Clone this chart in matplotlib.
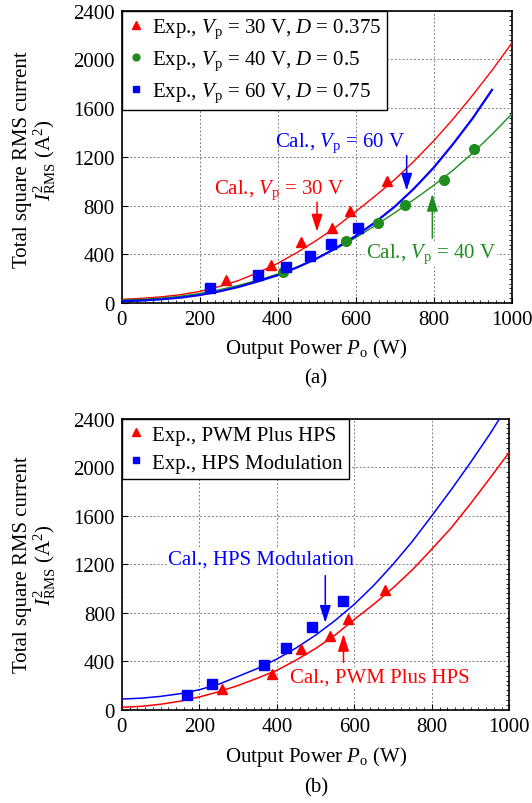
import matplotlib
matplotlib.use("Agg")
import matplotlib.pyplot as plt
from matplotlib.ticker import MultipleLocator

plt.rcParams['font.family'] = ['Liberation Serif', 'DejaVu Serif']
plt.rcParams['mathtext.fontset'] = 'custom'
plt.rcParams['mathtext.rm'] = 'Liberation Serif'
plt.rcParams['mathtext.it'] = 'Liberation Serif:italic'

RED = '#FF0000'
GREEN = '#1E8C1E'
BLUE = '#0000FF'

# ---------------- (a) data ----------------
a_exp30_x = [267, 383, 461, 540, 585, 680]
a_exp30_y = [189, 315, 504, 616, 759, 1005]
a_exp40_x = [414, 575, 657, 727, 826, 905]
a_exp40_y = [252, 507, 655, 805, 1011, 1263]
a_exp60_x = [226, 350, 421, 483, 538, 607]
a_exp60_y = [121, 227, 296, 386, 488, 616]

a_cal_x = [0, 50, 100, 150, 200, 250, 300, 350, 400, 450, 500, 550, 600, 650,
           700, 750, 800, 850, 900, 950, 1000]
a_cal30_y = [30, 38, 50, 68, 95, 135, 185, 250, 325, 415, 515, 625, 750, 878,
             1012, 1165, 1330, 1510, 1705, 1910, 2130]
a_cal40_y = [25, 30, 40, 56, 78, 108, 145, 188, 237, 295, 365, 445, 535, 635,
             740, 850, 965, 1090, 1230, 1385, 1550]
a_cal60_x = [0, 50, 100, 150, 200, 250, 300, 350, 400, 450, 500, 550, 600, 650,
             700, 750, 800, 850, 900, 950]
a_cal60_y = [15, 20, 30, 44, 65, 95, 132, 178, 228, 292, 365, 452, 550, 662,
             790, 940, 1110, 1305, 1515, 1750]

# ---------------- (b) data ----------------
b_exp_pwm_x = [258, 387, 462, 538, 584, 679]
b_exp_pwm_y = [171, 295, 498, 605, 748, 989]
b_exp_hps_x = [167, 232, 367, 424, 490, 571]
b_exp_hps_y = [121, 215, 371, 512, 685, 897]

b_cal_x = [0, 50, 100, 150, 200, 250, 300, 350, 400, 450, 500, 550, 600, 650,
           700, 750, 800, 850, 900, 950, 1000]
b_cal_pwm_y = [20, 28, 45, 70, 105, 148, 200, 260, 325, 410, 505, 615, 745, 870,
               1005, 1155, 1325, 1500, 1700, 1910, 2125]
b_cal_hps_y = [88, 95, 110, 132, 165, 210, 275, 340, 418, 510, 615, 735, 870,
               1025, 1200, 1390, 1600, 1815, 2040, 2275, 2530]

x_ticks = [0, 200, 400, 600, 800, 1000]
y_ticks = [0, 400, 800, 1200, 1600, 2000, 2400]

FS = 15

fig = plt.figure(figsize=(5.32, 8.04), dpi=100)
W, H = 532.0, 804.0

def make_axes(left, right, top, bottom):
    return fig.add_axes([left / W, 1 - bottom / H, (right - left) / W, (bottom - top) / H])

def style(ax):
    ax.set_xlim(0, 1000)
    ax.set_ylim(0, 2400)
    ax.set_xticks(x_ticks)
    ax.set_yticks(y_ticks)
    ax.xaxis.set_minor_locator(MultipleLocator(20))
    ax.yaxis.set_minor_locator(MultipleLocator(40))
    ax.tick_params(which='major', direction='in', length=4, width=0.8,
                   labelsize=FS, pad=5, right=False, top=False)
    ax.tick_params(which='minor', direction='in', length=2, width=0.6,
                   left=False, right=True, top=False, bottom=True)
    ax.grid(True, which='major', linestyle=(0, (2, 2)), color='#808080', linewidth=0.7)
    for s in ax.spines.values():
        s.set_linewidth(1.2)
        s.set_color('black')
    ax.set_axisbelow(True)

def legend(ax, handles):
    lg = ax.legend(handles=handles, loc='upper left', borderaxespad=0,
                   fontsize=FS, frameon=True, fancybox=False, framealpha=1,
                   edgecolor='black', handlelength=0.8, handletextpad=0.35,
                   labelspacing=0.4, borderpad=0.3, markerscale=0.7)
    lg.get_frame().set_linewidth(1.0)
    lg.set_zorder(5)

def arrow(ax, tip, tail, color):
    ax.annotate('', xy=tip, xytext=tail,
                arrowprops=dict(arrowstyle='-|>,head_length=0.75,head_width=0.24',
                                color=color, lw=1.1, mutation_scale=14,
                                shrinkA=0, shrinkB=0))

# ---------------- (a) ----------------
ax1 = make_axes(121.7, 511.5, 11.7, 304.0)
style(ax1)
ax1.plot(a_cal_x, a_cal30_y, color=RED, lw=1.0, zorder=3)
ax1.plot(a_cal_x, a_cal40_y, color=GREEN, lw=1.0, zorder=3)
ax1.plot(a_cal60_x, a_cal60_y, color=BLUE, lw=1.6, zorder=3)
h1 = ax1.plot(a_exp30_x, a_exp30_y, '^', color=RED, ms=7.5, ls='none', zorder=4,
              label=r'Exp., $V_{\mathrm{p}}$ = 30 V, $D$ = 0.375')[0]
h2 = ax1.plot(a_exp40_x, a_exp40_y, 'o', color=GREEN, ms=7, ls='none', zorder=4,
              label=r'Exp., $V_{\mathrm{p}}$ = 40 V, $D$ = 0.5')[0]
h3 = ax1.plot(a_exp60_x, a_exp60_y, 's', color=BLUE, ms=6.5, ls='none', zorder=4,
              label=r'Exp., $V_{\mathrm{p}}$ = 60 V, $D$ = 0.75')[0]
legend(ax1, [h1, h2, h3])

ax1.text(560, 1323, r'Cal., $V_{\mathrm{p}}$ = 60 V', color=BLUE, fontsize=FS,
         ha='center', va='center', zorder=6)
arrow(ax1, (731, 923), (731, 1211), BLUE)
ax1.text(404, 937, r'Cal., $V_{\mathrm{p}}$ = 30 V', color=RED, fontsize=FS,
         ha='center', va='center', zorder=6)
arrow(ax1, (501, 586), (501, 828), RED)
ax1.text(794, 411, r'Cal., $V_{\mathrm{p}}$ = 40 V', color=GREEN, fontsize=FS,
         ha='center', va='center', zorder=6,
         bbox=dict(facecolor='white', edgecolor='none', pad=0.5))
arrow(ax1, (797, 896), (797, 532), GREEN)

# ---------------- (b) ----------------
ax2 = make_axes(121.9, 509.3, 419.8, 710.7)
style(ax2)
ax2.plot(b_cal_x, b_cal_pwm_y, color=RED, lw=1.1, zorder=3)
ax2.plot(b_cal_x, b_cal_hps_y, color=BLUE, lw=1.1, zorder=3)
g1 = ax2.plot(b_exp_pwm_x, b_exp_pwm_y, '^', color=RED, ms=7.5, ls='none', zorder=4,
              label='Exp., PWM Plus HPS')[0]
g2 = ax2.plot(b_exp_hps_x, b_exp_hps_y, 's', color=BLUE, ms=6.5, ls='none', zorder=4,
              label='Exp., HPS Modulation')[0]
legend(ax2, [g1, g2])

ax2.text(359, 1243, 'Cal., HPS Modulation', color=BLUE, fontsize=FS,
         ha='center', va='center', zorder=6,
         bbox=dict(facecolor='white', edgecolor='none', pad=0.5))
arrow(ax2, (525, 717), (525, 1106), BLUE)
ax2.text(665, 270, 'Cal., PWM Plus HPS', color=RED, fontsize=FS,
         ha='center', va='center', zorder=6,
         bbox=dict(facecolor='white', edgecolor='none', pad=0.5))
arrow(ax2, (572, 625), (572, 391), RED)

# ---------------- labels ----------------
for yc in (160, 565):
    fig.text(23 / W, 1 - yc / H, 'Total square RMS current', rotation=90,
             ha='center', va='center', fontsize=FS)
    fig.text(45 / W, 1 - yc / H, r'$I^{2}_{\mathrm{RMS}}$ (A$^{2}$)', rotation=90,
             ha='center', va='center', fontsize=FS)

fig.text(316 / W, 1 - 349 / H, r'Output Power $P_{\mathrm{o}}$ (W)', ha='center',
         va='center', fontsize=FS)
fig.text(316 / W, 1 - 379 / H, '(a)', ha='center', va='center', fontsize=FS)
fig.text(316 / W, 1 - 757 / H, r'Output Power $P_{\mathrm{o}}$ (W)', ha='center',
         va='center', fontsize=FS)
fig.text(316 / W, 1 - 788 / H, '(b)', ha='center', va='center', fontsize=FS)

fig.savefig('out.png', dpi=100)
